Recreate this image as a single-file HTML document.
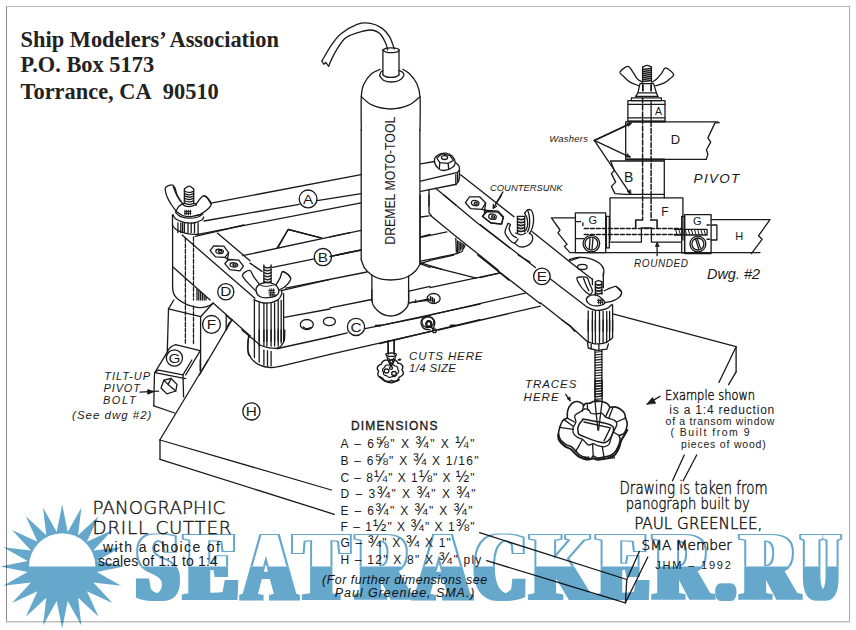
<!DOCTYPE html>
<html><head><meta charset="utf-8"><title>Panographic Drill Cutter</title>
<style>
html,body{margin:0;padding:0;background:#fff;}
body{width:856px;height:630px;overflow:hidden;position:relative;font-family:"Liberation Sans",sans-serif;}
svg{position:absolute;left:0;top:0;}
</style></head><body>
<svg width="856" height="630" viewBox="0 0 856 630">
<g fill="none" stroke-width="1"><path d="M6.5,6 V622.5" stroke="#8a8a8a"/><path d="M6,6.5 H850" stroke="#b8b8b8"/><path d="M849.5,6 V622.5" stroke="#a8a8a8"/><path d="M6,621.8 H850" stroke="#c0c0c0" stroke-width="1.4"/></g>
<g fill="none" stroke="#1a1a1a" stroke-width="1.3" stroke-linecap="round" stroke-linejoin="round">
<path d="M321.9,61 C323.5,58.4 328.2,49.7 331.4,45.2 C334.6,40.7 336.7,37.3 341,33.8 C345.3,30.3 352.2,26.1 357.1,24.3 C362.0,22.6 366.4,22.7 370.5,23.3 C374.6,23.9 378.7,25.9 381.9,28.1 C385.1,30.3 387.4,33.2 389.5,36.7 C391.6,40.2 393.5,47.0 394.3,49"/>
<path d="M328.6,66.2 C329.6,64.1 331.6,58.4 334.3,53.8 C337.0,49.2 341.0,42.1 344.8,38.6 C348.6,35.1 352.8,34.3 357.1,32.9 C361.4,31.5 366.7,29.9 370.5,30 C374.3,30.1 377.5,31.6 380,33.8 C382.5,36.0 384.4,40.6 385.7,43.3 C387.0,46.0 387.3,48.9 387.6,50"/>
<polyline points="321.9,61 323.8,64.3 325.7,62.4 328.6,66.2"/>
<polyline points="382.9,50 382.9,74.8"/>
<polyline points="399,50 399,74.8"/>
<path d="M382.9,50 C383.5,49.7 384.6,48.4 386.7,48.1 C388.8,47.8 393.1,47.8 395.2,48.1 C397.2,48.4 399.0,49.3 399,50 C399.0,50.7 397.2,51.9 395.2,52.3 C393.1,52.7 388.8,52.7 386.7,52.3 C384.6,51.9 383.5,50.4 382.9,50"/>
<path d="M382.9,74.8 C383.5,75.2 384.6,76.6 386.7,77 C388.8,77.4 393.1,77.4 395.2,77 C397.2,76.6 398.4,75.2 399,74.8"/>
<path d="M379.6,75.7 C379.8,75.1 380.4,72.8 381,71.9 C381.6,71.1 382.6,70.8 382.9,70.6"/>
<path d="M399,70.6 C399.6,70.9 402.1,71.7 402.9,72.5 C403.7,73.3 404.4,74.4 403.8,75.7 C403.2,77.0 401.1,79.5 399,80.5 C396.9,81.5 393.9,82.0 391.4,82 C388.9,82.0 385.8,81.5 383.8,80.5 C381.8,79.5 380.3,76.5 379.6,75.7"/>
<path d="M361.3,130 C361.3,124.5 360.9,104.3 361.3,96.7 C361.7,89.1 362.1,88.1 363.8,84.3 C365.5,80.5 368.7,76.3 371.4,73.8 C374.1,71.3 378.6,70.1 380,69.4"/>
<path d="M402.9,69.4 C404.0,70.1 407.2,71.5 409.5,73.8 C411.8,76.1 414.9,79.5 416.6,83.3 C418.4,87.1 419.4,88.9 420,96.7 C420.6,104.5 420.0,124.5 420,130"/>
<path d="M361.3,96.7 C363.1,98.1 367.5,103.2 372.4,105.2 C377.3,107.2 384.7,109.0 390.7,109 C396.7,109.0 403.7,107.2 408.6,105.2 C413.5,103.2 418.1,98.1 420,96.7"/>
<path d="M176.1,211.1 C175.3,210.0 172.8,206.9 171.3,204.5 C169.8,202.1 168.1,199.6 167.1,196.8 C166.1,194.0 164.6,189.9 165.4,187.9 C166.2,185.9 170.3,184.9 171.9,184.9 C173.5,184.9 174.0,186.1 174.9,187.9 C175.8,189.7 176.1,193.1 177.3,195.6 C178.5,198.1 181.2,201.5 182,202.7"/>
<polyline points="184.4,202.7 184.4,189"/>
<polyline points="193.7,189 193.7,202.7"/>
<path d="M184.4,189 C185.2,188.5 187.6,186.1 189.2,186.1 C190.8,186.1 192.9,188.5 193.7,189"/>
<path d="M184.4,191.2 C185.2,191.4 187.6,192.4 189.2,192.4 C190.8,192.4 192.9,191.4 193.7,191.2"/>
<path d="M184.4,193.6 C185.2,193.8 187.6,194.8 189.2,194.8 C190.8,194.8 192.9,193.8 193.7,193.6"/>
<path d="M184.4,196 C185.2,196.2 187.6,197.1 189.2,197.1 C190.8,197.1 192.9,196.2 193.7,196"/>
<path d="M184.4,198.3 C185.2,198.5 187.6,199.5 189.2,199.5 C190.8,199.5 192.9,198.5 193.7,198.3"/>
<path d="M184.4,200.7 C185.2,200.9 187.6,201.9 189.2,201.9 C190.8,201.9 192.9,200.9 193.7,200.7"/>
<path d="M176.1,211.1 C176.6,210.3 177.7,207.6 179,206.3 C180.3,205.0 182.1,203.6 183.8,203.3 C185.5,203.0 187.4,204.5 189.2,204.5 C191.0,204.5 193.3,203.2 194.5,203.3 C195.7,203.4 196.0,204.8 196.3,205.1"/>
<path d="M195.7,204.5 C197.1,203.0 201.4,195.8 204,195.6 C206.6,195.4 210.5,201.1 211.2,203.3 C211.9,205.5 210.1,206.8 208.2,208.7 C206.3,210.6 202.2,213.4 199.9,214.6 C197.6,215.8 195.4,215.6 194.5,215.8"/>
<path d="M176.1,211.1 C177.2,211.8 180.1,214.6 182.6,215.5 C185.1,216.4 188.2,216.8 191,216.7 C193.8,216.5 197.9,214.9 199.3,214.6"/>
<path d="M182,203.1 C182.4,203.5 183.2,205.1 184.4,205.7 C185.6,206.3 187.6,206.7 189.2,206.7 C190.8,206.7 192.8,205.9 193.9,205.5 C195.0,205.1 195.7,204.5 196,204.3"/>
<path d="M173.3,186.7 C173.8,188.0 175.2,192.0 176.4,194.4 C177.6,196.8 179.8,200.1 180.5,201.2"/>
<polyline points="204.3,196 207,197.6 211,203.6"/>
<polyline points="185,210.2 185,215" stroke-width="1"/>
<polyline points="186.8,210.2 186.8,215" stroke-width="1"/>
<polyline points="188.6,210.2 188.6,215" stroke-width="1"/>
<polyline points="190.4,210.2 190.4,215" stroke-width="1"/>
<polyline points="184.4,211.7 191,211.4" stroke-width="1"/>
<polyline points="184.4,213.5 191,213.2" stroke-width="1"/>
<path d="M172.9,214.6 C173.3,215.3 173.7,217.5 175.5,218.8 C177.3,220.1 180.8,221.7 183.8,222.4 C186.8,223.1 190.3,223.4 193.3,223 C196.3,222.6 199.9,221.0 201.7,220 C203.4,219.0 203.5,217.5 203.8,217"/>
<path d="M175.5,212.3 C176.3,213.0 178.0,215.4 180.2,216.4 C182.4,217.4 185.6,218.1 188.6,218.2 C191.6,218.3 195.7,217.7 198.1,217 C200.5,216.3 202.1,214.5 202.9,214"/>
<polyline points="172.5,215.2 172.5,226"/>
<path d="M172.5,226 C173.4,226.8 175.4,229.4 177.9,230.7 C180.4,232.0 184.0,233.1 187.4,233.7 C190.8,234.3 196.3,234.4 198.1,234.5"/>
<polyline points="198.1,223 198.1,234.9"/>
<polyline points="177.9,223 177.9,232.5"/>
<polyline points="180.8,223 180.8,232.5"/>
<polyline points="182.6,223 182.6,232.5"/>
<polyline points="184.4,223 184.4,232.5"/>
<polyline points="188,223 188,232.5"/>
<polyline points="191.2,223 191.2,232.5"/>
<polyline points="194.5,223 194.5,232.5"/>
<polyline points="172.6,225 172.6,287.5"/>
<path d="M172.6,287.5 C172.7,288.2 172.8,290.6 173.2,292 C173.6,293.4 174.0,294.7 175,296 C176.0,297.3 176.9,298.5 179,300 C181.1,301.5 184.3,303.5 187.6,304.8 C190.9,306.1 195.8,307.3 199,307.6 C202.2,307.9 204.8,307.1 207,306.5 C209.2,305.9 211.5,304.2 212.4,303.8"/>
<polyline points="195.2,236.3 244,225"/>
<polyline points="182.1,235.1 254.9,298.3"/>
<polyline points="217.3,233.1 250,260.7"/>
<polyline points="185.4,238.1 185.4,300" stroke-dasharray="4 1.6"/>
<polyline points="193.5,236.9 193.5,300" stroke-dasharray="4 1.6"/>
<polyline points="173.2,267.3 210.1,300"/>
<polygon points="210.1,250.6 213.7,245.8 223.8,246.2 228.6,252.6 225,257.4 215.5,256.9"/>
<ellipse cx="219.6" cy="251.4" rx="3.8" ry="2.1" transform="rotate(5 219.6 251.4)"/>
<ellipse cx="220.2" cy="251.4" rx="1.7" ry="1.0" stroke-width="1.2" transform="rotate(5 220.2 251.4)"/>
<polygon points="224.8,263.7 228.6,259.5 238.7,260.1 243.5,266.1 239.9,270.8 229.8,269.6"/>
<ellipse cx="233.9" cy="264.9" rx="3.8" ry="2.1" transform="rotate(5 233.9 264.9)"/>
<ellipse cx="234.5" cy="264.9" rx="1.7" ry="1.0" stroke-width="1.2" transform="rotate(5 234.5 264.9)"/>
<polyline points="225,257.4 228.8,259.8"/>
<polyline points="228.6,252.6 227.4,259.8"/>
<ellipse cx="225.8" cy="291.7" rx="8.1" ry="8.1"/>
<polyline points="197,289.3 197,300"/>
<polyline points="198.8,290.8 198.8,300"/>
<polyline points="200.6,292.5 200.6,300"/>
<polyline points="202.4,294 202.4,300"/>
<polyline points="204.2,295.7 204.2,300"/>
<polyline points="206,297.3 206,300"/>
<polyline points="173.8,300 168.5,308.9 167.3,351.2"/>
<polyline points="168.5,308.9 200.6,316.7 213.1,303"/>
<polyline points="200.6,316.7 200.6,370.2"/>
<polyline points="213.1,303 250,335.7"/>
<polyline points="226.2,314.9 226.2,329.8"/>
<path d="M226.2,314.9 C226.7,315.4 228.2,317.0 229.2,317.9 C230.2,318.8 231.6,319.6 232.1,320"/>
<path d="M232.1,320 C231.5,320.6 229.5,322.2 228.6,323.8 C227.7,325.4 226.8,328.8 226.4,329.8"/>
<polyline points="232.1,319.6 199.4,375"/>
<path d="M167.3,351.2 C167.9,350.5 169.4,348.1 170.8,347 C172.2,345.9 174.8,345.0 175.6,344.6"/>
<polyline points="175.6,344.6 200,350.6"/>
<polyline points="167.9,351.2 154.8,372.6"/>
<polyline points="200,351.2 185.7,375"/>
<polyline points="154.8,372.6 185.7,378.6"/>
<ellipse cx="174.4" cy="358" rx="8.1" ry="8.1"/>
<ellipse cx="211.5" cy="324.4" rx="8.9" ry="8.9"/>
<polyline points="185.4,300 185.4,344" stroke-dasharray="4 1.6"/>
<polyline points="193.5,306 193.5,344" stroke-dasharray="4 1.6"/>
<path d="M250,335.7 C249.7,336.3 248.5,337.5 248.2,339.3 C247.8,341.1 247.9,344.0 247.9,346.4 C247.9,348.8 247.8,352.0 248.2,353.6 C248.5,355.2 249.7,355.6 250,356"/>
<path d="M158.6,370.1 C158.0,370.5 155.9,371.4 155.2,372.5 C154.5,373.6 154.6,371.1 154.4,376.7 C154.2,382.2 153.9,400.9 153.8,405.8"/>
<polyline points="153.8,405.8 174.6,413"/>
<polyline points="158.6,370.1 183,374.9 183.6,396.9"/>
<polyline points="183,374.9 191.9,360"/>
<polyline points="200.2,360 200.2,371.3"/>
<polyline points="208,360 159.8,440"/>
<polygon points="161,388 163.9,380.2 171.1,378.5 177,384.4 175.8,391 166.9,393.9"/>
<polyline points="163.9,380.2 168.1,384.4 175.8,391"/>
<polyline points="168.1,384.4 171.1,378.5"/>
<polyline points="140.1,392.1 158.6,391.2"/>
<polygon points="147.9,389.8 153.2,391.7 147.9,393.9" fill="#1a1a1a"/>
<polyline points="242.6,255.7 350,232.7"/>
<polyline points="272.6,267.3 314.3,258.9"/>
<ellipse cx="322.9" cy="257.1" rx="8.6" ry="8.6"/>
<polyline points="332.1,256.2 350,252.1"/>
<polyline points="278,247.6 288.1,229.5 321.4,237.9"/>
<polyline points="250,263.1 261.9,271.4"/>
<polyline points="263.9,265 263.9,282.9"/>
<polyline points="271.1,265 271.1,282.9"/>
<path d="M263.9,266.8 C264.5,267.0 266.3,267.9 267.5,267.9 C268.7,267.9 270.5,267.0 271.1,266.8"/>
<path d="M263.9,269.8 C264.5,270.0 266.3,270.8 267.5,270.8 C268.7,270.8 270.5,270.0 271.1,269.8"/>
<path d="M263.9,272.7 C264.5,272.9 266.3,273.8 267.5,273.8 C268.7,273.8 270.5,272.9 271.1,272.7"/>
<path d="M263.9,275.7 C264.5,275.9 266.3,276.8 267.5,276.8 C268.7,276.8 270.5,275.9 271.1,275.7"/>
<path d="M263.9,278.7 C264.5,278.9 266.3,279.8 267.5,279.8 C268.7,279.8 270.5,278.9 271.1,278.7"/>
<path d="M263.9,281.4 C264.5,281.6 266.3,282.5 267.5,282.5 C268.7,282.5 270.5,281.6 271.1,281.4"/>
<path d="M255.6,290.6 C254.3,289.3 250.1,285.5 247.9,282.9 C245.7,280.3 242.2,277.2 242.5,275.1 C242.8,273.0 247.7,270.1 249.6,270.4 C251.5,270.7 252.2,274.6 253.8,276.9 C255.4,279.2 258.3,282.8 259.2,284"/>
<path d="M275.8,285.2 C276.5,284.0 278.8,280.4 280,278.1 C281.2,275.8 281.2,271.5 283,271.5 C284.8,271.5 290.2,275.7 290.7,278.1 C291.2,280.5 288.0,283.8 286,285.8 C284.0,287.8 280.0,289.5 278.8,290.2"/>
<polyline points="283,271.5 288.3,274.5 290.7,278.1"/>
<path d="M256,290.6 C255.8,288.7 257.0,286.3 258.6,285 C260.2,283.7 263.1,282.8 265.7,282.6 C268.3,282.4 271.8,282.8 274,284 C276.2,285.2 278.4,288.1 278.8,290 C279.2,291.9 278.2,294.1 276.4,295.4 C274.6,296.7 270.9,297.5 268.1,297.7 C265.3,297.9 261.8,297.7 259.8,296.5 C257.8,295.3 256.2,292.5 256,290.6Z"/>
<path d="M253.8,299.8 C255.8,300.4 261.7,303.1 265.7,303.1 C269.7,303.2 274.9,301.7 277.6,300.1 C280.3,298.5 281.2,295.2 281.8,293.6 C282.4,292.0 281.3,291.1 281.2,290.6"/>
<polyline points="269.9,288.8 270.5,296.2" stroke-width="1"/>
<polyline points="271.7,288.8 272.3,296.2" stroke-width="1"/>
<polyline points="273.5,288.8 274,296.2" stroke-width="1"/>
<polyline points="268.7,290.6 274.6,290.2" stroke-width="1"/>
<polyline points="268.7,293 275,292.6" stroke-width="1"/>
<polyline points="269.3,295 275,294.8" stroke-width="1"/>
<path d="M259.8,285 C260.8,285.2 263.4,286.4 265.7,286.4 C268.0,286.4 272.2,285.2 273.5,285" stroke-width="1"/>
<polyline points="254.4,299.8 254.4,341.2"/>
<polyline points="283.6,293.6 283.6,341.2"/>
<polyline points="259.2,302.9 259.2,341.2"/>
<polyline points="263.9,302.9 263.9,341.2"/>
<polyline points="266.9,302.9 266.9,341.2"/>
<polyline points="271.1,302.9 271.1,341.2"/>
<polyline points="274.6,302.9 274.6,341.2"/>
<polyline points="278.2,300.5 278.2,341.2"/>
<polyline points="281.2,300.5 281.2,341.2"/>
<polyline points="281.2,290.6 330,279.3"/>
<polyline points="284.2,317.4 330,309"/>
<ellipse cx="306.8" cy="324.5" rx="6.5" ry="5.0"/>
<path d="M303.2,326.9 C303.7,327.2 304.9,328.6 306.2,328.7 C307.5,328.8 310.2,327.7 311,327.5"/>
<path d="M241.9,330 C244.1,331.8 251.8,338.1 255,340.7 C258.2,343.3 258.6,344.3 261,345.5 C263.4,346.7 266.5,347.4 269.3,347.9 C272.1,348.4 276.2,348.4 277.6,348.5"/>
<polyline points="277.6,348.5 330,337"/>
<path d="M284.8,330 C284.7,331.8 284.9,338.0 284.2,340.7 C283.5,343.4 281.9,345.1 280.6,346.4 C279.3,347.7 277.1,348.1 276.4,348.5"/>
<path d="M248.5,336.5 C248.4,338.8 247.4,346.5 247.9,350.2 C248.4,353.9 249.4,356.1 251.4,358.6 C253.4,361.1 256.6,363.6 259.8,365.1 C263.0,366.6 267.1,367.3 270.5,367.5 C273.9,367.7 278.4,366.5 280,366.3"/>
<polyline points="280,366.3 330,354.3"/>
<polyline points="259.2,330 259.2,346.1"/>
<polyline points="263.9,330 263.9,346.1"/>
<polyline points="266.9,330 266.9,346.1"/>
<polyline points="271.1,330 271.1,346.1"/>
<polyline points="274.6,330 274.6,346.1"/>
<polyline points="278.2,330 278.2,346.1"/>
<polyline points="281.2,330 281.2,343.1"/>
<polyline points="254.4,337.1 254.4,357.4"/>
<polyline points="259.2,344.3 259.2,362.1"/>
<polyline points="263.9,350.2 263.9,365.1"/>
<polyline points="267.5,350.8 267.5,365.7"/>
<polyline points="271.1,351.4 271.1,365.7"/>
<polyline points="361.2,129.8 361.2,259.5"/>
<polyline points="419.9,129.8 419.9,264.3"/>
<path d="M361.2,259.5 C361.8,260.9 362.8,265.3 364.5,267.9 C366.2,270.5 368.9,273.1 371.7,275 C374.5,276.9 378.0,278.4 381.2,279.2 C384.4,280.0 387.5,280.0 390.7,280 C393.9,280.0 397.2,279.8 400.2,279.2 C403.2,278.6 406.0,277.6 408.6,276.2 C411.2,274.8 413.8,272.8 415.7,270.8 C417.6,268.8 419.2,265.4 419.9,264.3"/>
<polyline points="371.9,275 371.9,301.2"/>
<polyline points="408.6,276.2 408.6,301.2"/>
<polyline points="330,236.9 361.2,230.4"/>
<polyline points="330,256.5 361.2,250"/>
<polyline points="420.5,236.9 430,234.5"/>
<polyline points="419.9,263.7 430,260.7"/>
<polyline points="419.9,263.7 430,267.3"/>
<polyline points="409.2,291.1 430,286.3"/>
<path d="M371.9,290 C371.9,291.8 371.5,297.9 371.9,300.7 C372.2,303.5 372.6,304.7 374,306.7 C375.4,308.7 377.8,311.1 380,312.6 C382.2,314.1 384.7,315.1 387.1,315.6 C389.5,316.1 391.9,316.1 394.3,315.6 C396.7,315.1 399.2,314.1 401.4,312.6 C403.6,311.1 406.2,308.7 407.4,306.7 C408.6,304.7 408.4,303.5 408.6,300.7 C408.8,297.9 408.6,291.8 408.6,290"/>
<polyline points="330,307.9 371.7,299.5"/>
<polyline points="330,337 347.3,332.9"/>
<ellipse cx="356" cy="326.9" rx="8.6" ry="8.6"/>
<polyline points="365.1,328.7 430,315.6"/>
<polyline points="330,354.3 430,331.7"/>
<polyline points="388.3,340.6 388.3,354.3"/>
<polyline points="394.3,339.4 394.3,354.3"/>
<polyline points="409.2,303.1 428.8,298.9"/>
<ellipse cx="427.9" cy="322.1" rx="6.0" ry="5.4"/>
<ellipse cx="428.8" cy="323.9" rx="2.6" ry="2.6" stroke-width="2"/>
<ellipse cx="329.4" cy="321.5" rx="6.0" ry="4.2"/>
<polyline points="375.8,325.7 380.6,325.4" stroke-width="2"/>
<polyline points="420.7,163.9 434.4,161.5"/>
<path d="M455.2,162.1 C455.8,162.8 458.3,164.5 459,166.3 C459.7,168.1 459.5,170.6 459.5,172.9 C459.5,175.2 459.6,178.0 459,180 C458.4,182.0 456.3,184.0 455.8,184.8"/>
<polyline points="420.7,181.2 457.6,172.3 459.5,169.9"/>
<polyline points="420.7,191.3 455.2,184.5"/>
<polyline points="455.8,174.6 455.8,184.2"/>
<polyline points="457.6,173.5 457.6,182.4"/>
<path d="M434.4,160.4 C434.4,158.2 436.1,156.2 438,155 C439.9,153.8 443.3,153.0 445.7,153.2 C448.1,153.4 450.7,154.6 452.3,156.2 C453.9,157.8 455.2,160.8 455.2,162.7 C455.2,164.6 454.2,166.2 452.3,167.5 C450.4,168.8 446.3,170.4 443.9,170.5 C441.5,170.6 439.6,169.8 438,168.1 C436.4,166.4 434.4,162.6 434.4,160.4Z"/>
<polygon points="436.8,158 442.1,153.8 449.9,155.6 453.5,160.4 448.1,163.3 439.8,162.7"/>
<polyline points="439.8,162.7 439.2,168.7"/>
<polyline points="448.1,163.3 448.7,169.3"/>
<ellipse cx="444.5" cy="157.6" rx="3.1" ry="1.9"/>
<polyline points="435.6,188.3 455.8,205"/>
<polyline points="429,189.5 429,206.2"/>
<polyline points="502.9,191.9 495.7,203.8"/>
<polyline points="420.1,195 420.1,262.3"/>
<polyline points="429,195 429,212.9 431.2,215.5"/>
<polyline points="420.7,217 429,215.8"/>
<polyline points="443.9,195 476.7,222.4 510,248"/>
<polyline points="430.5,215.5 456.4,236.7 498.1,270"/>
<polyline points="420.7,237.3 446.9,231.9"/>
<polyline points="455.8,238.5 456.4,252.1"/>
<path d="M420.7,261.1 C426.9,259.8 450.6,255.3 457.6,253.3 C464.7,251.3 461.8,250.6 463,249.2 C464.2,247.8 464.7,245.7 465,245"/>
<polyline points="457.6,240.8 457.6,252.7"/>
<polyline points="459,241.7 459,251.4"/>
<polyline points="460.5,242.5 460.5,250.1"/>
<polyline points="461.9,243.3 461.9,248.8"/>
<polyline points="463.3,244.2 463.3,247.5"/>
<polyline points="420.7,262.9 442.1,269.4"/>
<polygon points="465.4,202.7 469.5,196.8 479.6,196.8 485.6,202.7 482,209.3 470.7,208.7"/>
<ellipse cx="475.2" cy="203.1" rx="3.8" ry="2.6" transform="rotate(10 475.2 203.1)"/>
<ellipse cx="475.8" cy="203.3" rx="1.5" ry="1.1" stroke-width="1.3" transform="rotate(10 475.8 203.3)"/>
<polygon points="482.6,216.4 486.8,210.5 498.1,211.1 503.5,217 501.7,224.2 491,223"/>
<ellipse cx="492.5" cy="216.7" rx="3.8" ry="2.6" transform="rotate(10 492.5 216.7)"/>
<ellipse cx="493.1" cy="216.9" rx="1.5" ry="1.1" stroke-width="1.3" transform="rotate(10 493.1 216.9)"/>
<polyline points="482,209.3 486.8,210.5"/>
<polyline points="485.6,202.7 484.4,212.9"/>
<polyline points="501.7,195 493.3,208.1"/>
<polyline points="493.3,204.5 493.3,208.3 496.7,206.3"/>
<polyline points="517.5,216.3 517.5,233"/>
<polyline points="524.6,216.3 524.6,231.8"/>
<polyline points="517.5,216.3 524.6,216.3"/>
<path d="M517.5,218.7 C518.1,218.8 519.9,219.6 521.1,219.6 C522.3,219.6 524.0,218.8 524.6,218.7" stroke-width="1.6"/>
<path d="M517.5,221.7 C518.1,221.8 519.9,222.6 521.1,222.6 C522.3,222.6 524.0,221.8 524.6,221.7" stroke-width="1.6"/>
<path d="M517.5,224.6 C518.1,224.8 519.9,225.6 521.1,225.6 C522.3,225.6 524.0,224.8 524.6,224.6" stroke-width="1.6"/>
<path d="M517.5,227.6 C518.1,227.8 519.9,228.6 521.1,228.6 C522.3,228.6 524.0,227.8 524.6,227.6" stroke-width="1.6"/>
<path d="M517.5,230.6 C518.1,230.8 519.9,231.5 521.1,231.5 C522.3,231.5 524.0,230.8 524.6,230.6" stroke-width="1.6"/>
<path d="M524.6,213.3 C525.1,212.7 526.4,210.2 527.6,209.8 C528.8,209.4 530.8,209.4 531.8,211 C532.8,212.6 533.5,216.5 533.6,219.3 C533.7,222.1 533.1,225.2 532.4,227.6 C531.7,230.0 529.9,232.6 529.4,233.6"/>
<path d="M524.6,213.3 C525.0,214.1 526.5,216.1 527,218.1 C527.5,220.1 527.8,223.1 527.6,225.2 C527.4,227.3 526.1,229.7 525.8,230.6"/>
<path d="M527.6,209.8 C527.9,211.0 529.1,214.1 529.4,216.9 C529.7,219.7 529.7,223.9 529.4,226.4 C529.1,228.9 527.9,230.9 527.6,231.8"/>
<path d="M508,223.5 C507.5,225.0 504.7,229.6 505,232.4 C505.3,235.2 508.2,238.3 509.8,240.1 C511.4,241.9 513.1,243.3 514.5,243.1 C515.9,242.9 517.5,239.6 518.1,238.9"/>
<path d="M508,223.5 C508.4,223.7 510.2,223.7 510.4,224.6 C510.6,225.5 508.9,227.1 509.2,228.8 C509.5,230.5 510.9,233.3 512.1,234.8 C513.3,236.3 515.6,237.2 516.3,237.7"/>
<path d="M514.5,243.1 C515.3,243.7 517.3,246.2 519.3,246.7 C521.3,247.2 524.3,246.9 526.4,246.1 C528.5,245.3 530.8,243.6 531.8,241.9 C532.8,240.2 532.8,237.5 532.4,236 C532.0,234.5 529.9,233.5 529.4,233"/>
<path d="M515.7,233 C516.6,233.3 519.4,234.8 521.1,234.8 C522.8,234.8 525.0,233.3 525.8,233"/>
<polyline points="480,224.6 535.4,267.5"/>
<ellipse cx="541.9" cy="276.4" rx="8.3" ry="8.3"/>
<polyline points="480,256.2 508.6,280"/>
<polyline points="480,277.6 500.2,272.9"/>
<polygon points="482.4,216.3 487.1,211.5 497.9,212.1 503.2,217.5 501.4,224 490.7,222.9"/>
<polyline points="569.3,261 580,257.4"/>
<path d="M569.2,259.8 C570.7,259.4 574.6,257.6 578.1,257.4 C581.6,257.2 586.4,257.6 590,258.6 C593.6,259.6 597.2,261.5 599.5,263.3 C601.8,265.1 603.1,267.1 603.7,269.3 C604.3,271.5 603.4,275.2 603.3,276.4"/>
<ellipse cx="582.3" cy="266.9" rx="4.8" ry="2.6"/>
<polyline points="592.4,278.8 592.4,284.8"/>
<polyline points="603.3,272.9 603.3,287.7"/>
<polyline points="550.1,278.8 587.6,307.4"/>
<path d="M587.6,307.4 C589.0,307.9 592.8,310.2 596,310.4 C599.2,310.6 604.0,309.6 606.7,308.6 C609.4,307.6 611.1,305.1 612,304.4"/>
<polyline points="540,302.6 570.4,326.4 574.5,331.2"/>
<path d="M576.9,278.2 C577.0,276.7 579.4,277.1 581.1,277 C582.8,276.9 585.5,276.3 587,277.6 C588.5,278.9 589.1,282.6 590,284.8 C590.9,287.0 592.4,289.1 592.4,290.7 C592.4,292.3 591.1,294.1 590,294.3 C588.9,294.5 587.4,293.3 585.8,291.9 C584.2,290.5 582.0,288.3 580.5,286 C579.0,283.7 576.8,279.7 576.9,278.2Z"/>
<path d="M583.5,278.2 C583.9,279.2 584.9,282.1 585.8,284.2 C586.7,286.3 588.3,289.6 588.8,290.7"/>
<polyline points="595.4,281.8 595.4,295.5"/>
<polyline points="601.9,281.8 601.9,294.3"/>
<path d="M595.4,281.8 C595.9,281.6 597.5,280.6 598.6,280.6 C599.7,280.6 601.4,281.6 601.9,281.8"/>
<path d="M595.4,284.2 C595.9,284.4 597.5,285.1 598.6,285.1 C599.7,285.1 601.4,284.4 601.9,284.2" stroke-width="1.6"/>
<path d="M595.4,287.1 C595.9,287.3 597.5,288.1 598.6,288.1 C599.7,288.1 601.4,287.3 601.9,287.1" stroke-width="1.6"/>
<path d="M595.4,290.1 C595.9,290.3 597.5,291.1 598.6,291.1 C599.7,291.1 601.4,290.3 601.9,290.1" stroke-width="1.6"/>
<path d="M595.4,293.1 C595.9,293.2 597.5,294.0 598.6,294 C599.7,294.0 601.4,293.2 601.9,293.1" stroke-width="1.6"/>
<path d="M604.3,290.7 C605.5,290.2 609.4,288.4 611.4,287.7 C613.4,287.0 614.5,285.8 616.2,286.5 C617.9,287.2 621.0,290.1 621.5,291.9 C622.0,293.7 620.9,295.7 619.2,297.3 C617.5,298.9 613.8,300.5 611.4,301.4 C609.0,302.3 606.0,302.4 604.9,302.6"/>
<polyline points="616.2,286.5 619.2,289.5 621.5,291.9"/>
<path d="M586.4,300.2 C586.0,298.7 587.4,297.0 588.8,296.1 C590.2,295.2 593.0,294.8 594.8,294.9 C596.6,295.0 597.8,295.4 599.5,296.7 C601.2,298.0 604.9,301.1 604.9,302.6 C604.9,304.1 601.8,305.2 599.5,305.6 C597.2,306.0 593.4,305.9 591.2,305 C589.0,304.1 586.8,301.7 586.4,300.2Z"/>
<polyline points="598.3,299 598.8,304" stroke-width="1"/>
<polyline points="600.1,299 600.6,304" stroke-width="1"/>
<polyline points="601.9,299 602.4,304" stroke-width="1"/>
<polyline points="597.4,300.5 603.1,300.2" stroke-width="1"/>
<polyline points="597.6,302.4 603.3,302.1" stroke-width="1"/>
<polyline points="588.2,311 588.2,331.2"/>
<polyline points="612.6,305 612.6,331.2"/>
<polyline points="592.4,311.5 592.4,331.2"/>
<polyline points="595.4,311.5 595.4,331.2"/>
<polyline points="599.5,311.5 599.5,331.2"/>
<polyline points="603.1,311.5 603.1,331.2"/>
<polyline points="606.7,311.5 606.7,331.2"/>
<polyline points="609.6,311.5 609.6,331.2"/>
<polyline points="477.6,255 540,303.5"/>
<polyline points="518.1,255 530,262.1"/>
<polyline points="430,260.4 453.8,255"/>
<polyline points="430,266.3 476.4,278.2"/>
<polyline points="430,287.7 500.2,272.9"/>
<polyline points="430,315.1 525.2,293.1"/>
<polyline points="438.3,330 540.5,306.1"/>
<ellipse cx="433.6" cy="298.5" rx="6.5" ry="5.0"/>
<polyline points="430.6,296.7 430.6,300.8" stroke-width="1.6"/>
<polyline points="432.4,297.9 432.4,302" stroke-width="1.6"/>
<polyline points="434.2,299 434.2,302.6" stroke-width="1.6"/>
<polyline points="380,325.6 480,304.2"/>
<polyline points="380,343.5 480,319.6"/>
<path d="M427.6,316.7 C426.7,317.1 423.4,317.8 422.3,319 C421.2,320.2 420.8,322.2 421.1,323.8 C421.4,325.4 422.5,327.6 424,328.6 C425.5,329.6 429.0,329.6 430,329.8"/>
<path d="M427.6,316.7 C428.4,316.9 431.2,316.9 432.4,317.9 C433.6,318.9 434.6,320.9 434.8,322.6 C435.0,324.3 433.8,327.1 433.6,328"/>
<ellipse cx="428.8" cy="323.8" rx="2.4" ry="3.1" stroke-width="1.3"/>
<ellipse cx="434.5" cy="330.7" rx="1.9" ry="1.9"/>
<polyline points="430.6,326.8 433.6,329.2" stroke-width="1.5"/>
<polyline points="450.8,325.6 455,325.4" stroke-width="2"/>
<polyline points="409.8,302.6 430,300"/>
<polyline points="415.7,300 415.7,302.4"/>
<polyline points="388,341 388,353.7"/>
<polyline points="394,340.6 394,353.7"/>
<path d="M385.8,354 C386.1,353.6 387.5,353.2 388.8,353.1 C390.1,353.0 392.4,353.0 393.6,353.1 C394.9,353.2 396.0,353.6 396.3,354 C396.6,354.4 396.1,355.4 395.2,355.8 C394.3,356.2 392.5,356.4 391.2,356.4 C389.9,356.4 388.1,356.2 387.2,355.8 C386.3,355.4 385.5,354.4 385.8,354Z"/>
<polyline points="386.8,355.8 388,360.4 391.2,366.7 394.5,360.4 395.6,355.8"/>
<polyline points="388.8,358 391.2,365.2 393.6,358" stroke-width="1"/>
<polyline points="388.8,358.8 393.6,361.2" stroke-width="0.9"/>
<polyline points="393.6,358.8 388.8,361.2" stroke-width="0.9"/>
<polyline points="389.2,362 393.2,363.6" stroke-width="0.9"/>
<polygon points="402.4,370.6 403.0,371.5 403.3,372.5 403.3,373.5 402.9,374.5 402.3,375.3 401.4,376.0 400.4,376.6 399.3,376.9 398.9,377.9 398.5,378.8 397.8,379.7 397.0,380.4 396.0,380.9 394.8,381.1 393.6,381.1 392.4,380.8 391.3,380.4 390.3,380.9 389.2,381.3 388.0,381.5 386.8,381.5 385.7,381.3 384.7,380.7 383.9,380.0 383.2,379.1 382.8,378.2 381.7,377.9 380.6,377.5 379.5,377.0 378.7,376.3 378.1,375.4 377.8,374.4 377.9,373.4 378.2,372.4 378.7,371.5 378.2,370.6 377.6,369.7 377.3,368.7 377.3,367.7 377.7,366.7 378.3,365.9 379.2,365.2 380.2,364.6 381.3,364.3 381.7,363.3 382.1,362.4 382.8,361.5 383.6,360.8 384.6,360.3 385.8,360.1 387.0,360.1 388.2,360.4 389.3,360.8 390.3,360.3 391.4,359.9 392.6,359.7 393.8,359.7 394.9,359.9 395.9,360.5 396.7,361.2 397.4,362.1 397.8,363.0 398.9,363.3 400.0,363.7 401.1,364.2 401.9,364.9 402.5,365.8 402.8,366.8 402.7,367.8 402.4,368.8 401.9,369.7" stroke-width="1.4"/>
<polygon points="398.6,370.8 398.7,371.4 398.7,371.9 398.5,372.5 398.1,373.0 397.6,373.4 397.0,373.8 396.7,374.2 396.5,374.8 396.2,375.4 395.8,375.8 395.3,376.2 394.7,376.5 394.0,376.6 393.2,376.6 392.5,376.5 391.9,376.7 391.3,377.0 390.6,377.2 389.9,377.3 389.2,377.3 388.5,377.1 387.9,376.8 387.4,376.4 386.9,375.9 386.4,375.7 385.6,375.6 385.0,375.4 384.4,375.0 383.9,374.6 383.6,374.1 383.4,373.5 383.4,372.9 383.5,372.3 383.3,371.8 382.9,371.3 382.6,370.8 382.5,370.2 382.5,369.7 382.7,369.1 383.1,368.6 383.6,368.2 384.2,367.8 384.5,367.4 384.7,366.8 385.0,366.2 385.4,365.8 385.9,365.4 386.5,365.1 387.2,365.0 388.0,365.0 388.7,365.1 389.3,364.9 389.9,364.6 390.6,364.4 391.3,364.3 392.0,364.3 392.7,364.5 393.3,364.8 393.8,365.2 394.3,365.7 394.8,365.9 395.6,366.0 396.2,366.2 396.8,366.6 397.3,367.0 397.6,367.5 397.8,368.1 397.8,368.7 397.7,369.3 397.9,369.8 398.3,370.3" stroke-width="1.2"/>
<ellipse cx="386.5" cy="371" rx="2.3" ry="2.0" stroke-width="1.4"/>
<ellipse cx="394" cy="373.5" rx="2.3" ry="2.0" stroke-width="1.4"/>
<ellipse cx="391" cy="368" rx="1.6" ry="1.4" stroke-width="1.2"/>
<path d="M380,377 C380.8,377.7 383.0,380.1 385,381 C387.0,381.9 389.7,382.7 392,382.5 C394.3,382.3 397.8,380.4 399,380" stroke-width="1.8"/>
<polyline points="401.1,359.2 398.2,359.8" stroke-width="1"/>
<polygon points="398.2,359.8 399.9,358.7 400.2,360.2" stroke-width="0.8" fill="#1a1a1a"/>
<polyline points="588.2,320 588.2,342"/>
<polyline points="612.6,320 612.6,336.7"/>
<path d="M588.2,342 C589.3,342.3 592.1,343.6 594.8,343.8 C597.5,344.0 601.5,344.0 604.3,343.2 C607.1,342.4 610.0,340.1 611.4,339 C612.8,337.9 612.4,337.1 612.6,336.7"/>
<polyline points="592.4,320 592.4,342.6"/>
<polyline points="595.4,320 595.4,342.6"/>
<polyline points="599.5,320 599.5,342.6"/>
<polyline points="603.1,320 603.1,342.6"/>
<polyline points="606.7,320 606.7,342.6"/>
<polyline points="609.6,320 609.6,339.6"/>
<polyline points="562,320 569.2,325 588.2,342.6"/>
<polyline points="587.6,343.2 588.2,348 597.1,350.4 606.7,349.2 608.5,343.8"/>
<polyline points="591.2,344.4 591.2,348.8"/>
<polyline points="598.9,344.4 598.9,350"/>
<polyline points="595,350.4 595,396.2"/>
<polyline points="601.9,350 601.9,396.2"/>
<polyline points="595,352.3 601.9,351.5" stroke-width="1.1"/>
<polyline points="595,354.9 601.9,354.2" stroke-width="1.1"/>
<polyline points="595,357.5 601.9,356.8" stroke-width="1.1"/>
<polyline points="595,360.1 601.9,359.4" stroke-width="1.1"/>
<polyline points="595,362.7 601.9,362" stroke-width="1.1"/>
<polyline points="595,365.4 601.9,364.6" stroke-width="1.1"/>
<polyline points="595,368 601.9,367.3" stroke-width="1.1"/>
<polyline points="595,370.6 601.9,369.9" stroke-width="1.1"/>
<polyline points="595,373.2 601.9,372.5" stroke-width="1.1"/>
<polyline points="595,375.8 601.9,375.1" stroke-width="1.1"/>
<polyline points="595,378.5 601.9,377.7" stroke-width="1.1"/>
<polyline points="595,381.1 601.9,380.4" stroke-width="1.1"/>
<polyline points="595,383.7 601.9,383" stroke-width="1.1"/>
<polyline points="595,386.3 601.9,385.6" stroke-width="1.1"/>
<polyline points="595,388.9 601.9,388.2" stroke-width="1.1"/>
<polyline points="595,391.5 601.9,390.8" stroke-width="1.1"/>
<polyline points="595,394.2 601.9,393.5" stroke-width="1.1"/>
<polyline points="595,396.8 601.9,396.1" stroke-width="1.1"/>
<polyline points="595,380 595,401.4 597.9,430"/>
<polyline points="602.1,380 602.1,401.4 598.6,430"/>
<polyline points="595,381.4 602.1,380.7" stroke-width="1.1"/>
<polyline points="595,384 602.1,383.3" stroke-width="1.1"/>
<polyline points="595,386.6 602.1,385.9" stroke-width="1.1"/>
<polyline points="595,389.1 602.1,388.4" stroke-width="1.1"/>
<polyline points="595,391.7 602.1,391" stroke-width="1.1"/>
<polyline points="595,394.3 602.1,393.6" stroke-width="1.1"/>
<polyline points="595,396.9 602.1,396.1" stroke-width="1.1"/>
<polyline points="595,399.4 602.1,398.7" stroke-width="1.1"/>
<polyline points="595,402 602.1,401.3" stroke-width="1.1"/>
<path d="M567.3,418.2 C567.4,416.9 567.1,412.5 567.8,410.1 C568.5,407.7 570.1,405.0 571.6,403.6 C573.1,402.2 575.2,401.5 577,401.5 C578.8,401.5 581.3,402.9 582.4,403.6 C583.5,404.3 583.3,405.4 583.5,405.8" stroke-width="1.6"/>
<path d="M583.5,405.8 C583.9,405.4 584.5,404.1 585.6,403.6 C586.7,403.2 588.6,403.5 589.9,403.1 C591.2,402.8 592.1,401.9 593.2,401.5 C594.3,401.1 595.0,400.9 596.4,400.9 C597.8,400.9 600.0,401.1 601.8,401.5 C603.6,401.9 605.9,402.6 607.2,403.6 C608.6,404.6 609.5,406.8 609.9,407.4" stroke-width="1.6"/>
<path d="M609.9,407.4 C610.7,407.3 613.0,406.6 614.7,406.9 C616.4,407.2 618.5,407.9 620.1,409 C621.7,410.1 623.6,411.8 624.5,413.3 C625.4,414.8 625.3,417.4 625.5,418.2" stroke-width="1.6"/>
<path d="M625.5,418.2 C625.8,419.0 627.1,421.2 627.2,423.1 C627.3,425.0 626.7,427.7 626.1,429.5 C625.5,431.3 624.6,432.8 623.4,433.8 C622.2,434.8 619.8,435.2 619.1,435.5" stroke-width="1.6"/>
<path d="M619.1,435.5 C619.3,436.3 620.3,438.4 620.1,440.3 C619.9,442.2 618.9,444.8 618,446.8 C617.1,448.8 616.0,450.8 614.7,452.2 C613.4,453.6 612.2,454.6 610.4,455.4 C608.6,456.2 605.1,456.7 604,457" stroke-width="1.6"/>
<path d="M604,457 C602.9,457.2 599.3,458.3 597.5,458.1 C595.7,457.9 594.3,455.9 593.2,456 C592.1,456.1 592.3,458.4 591,458.7 C589.7,459.0 587.4,458.2 585.6,457.6 C583.8,457.1 581.8,456.5 580.2,455.4 C578.6,454.3 576.6,451.8 575.9,451.1" stroke-width="1.6"/>
<path d="M575.9,451.1 C575.2,450.4 573.2,447.9 571.6,446.8 C570.0,445.7 568.0,445.7 566.2,444.6 C564.4,443.5 562.1,442.1 560.8,440.3 C559.5,438.5 558.8,436.0 558.6,433.8 C558.4,431.6 559.5,428.5 559.7,427.4" stroke-width="1.6"/>
<path d="M559.7,427.4 C560.1,426.5 561.2,423.4 561.9,422 C562.6,420.6 563.1,419.9 564,419.3 C564.9,418.7 566.8,418.4 567.3,418.2" stroke-width="1.6"/>
<path d="M558.1,434.4 C558.3,435.4 558.0,438.5 559.2,440.5 C560.4,442.5 563.2,445.0 565.1,446.4 C567.0,447.8 568.8,447.8 570.5,449 C572.2,450.2 573.8,452.3 575.4,453.7 C577.0,455.1 578.3,456.4 580.2,457.4 C582.1,458.3 584.5,459.2 586.7,459.4 C588.9,459.6 591.4,458.4 593.2,458.5 C595.0,458.6 595.7,459.6 597.5,459.7 C599.3,459.8 601.7,459.3 604,458.9 C606.3,458.5 609.5,458.3 611.5,457.4 C613.5,456.5 614.5,455.2 615.8,453.6 C617.1,452.0 618.2,449.9 619.1,447.7 C620.0,445.5 620.3,442.6 621.2,440.5 C622.1,438.4 623.5,436.6 624.5,434.9 C625.5,433.2 626.8,430.9 627.3,430.1" stroke-width="2"/>
<path d="M574.8,415.5 C575.7,413.7 579.7,412.3 581.3,411.2 C582.9,410.1 583.2,409.2 584.5,409 C585.8,408.8 587.7,409.4 588.8,410.1 C589.9,410.8 589.9,412.7 591,413.3 C592.1,413.9 593.5,413.9 595.3,413.9 C597.1,413.9 600.2,412.9 601.8,413.3 C603.4,413.8 603.9,415.8 605,416.6 C606.1,417.4 606.7,417.6 608.3,418.2 C609.9,418.8 613.3,419.4 614.7,420.4 C616.1,421.4 616.9,422.6 616.9,424.1 C616.9,425.6 615.5,427.7 614.7,429.5 C613.9,431.3 612.7,433.1 612,434.9 C611.3,436.7 610.9,438.7 610.4,440.3 C609.9,441.9 609.9,443.5 608.8,444.6 C607.7,445.7 605.9,446.6 604,446.8 C602.1,447.0 599.3,446.2 597.5,445.7 C595.7,445.2 594.7,443.7 593.2,443.6 C591.8,443.5 590.1,445.4 588.8,445.2 C587.5,445.0 586.7,443.5 585.6,442.5 C584.5,441.5 583.8,440.1 582.4,439.2 C581.0,438.3 578.5,438.2 577,437.1 C575.5,436.0 573.8,434.4 573.2,432.8 C572.6,431.2 572.8,429.2 573.2,427.4 C573.7,425.6 575.6,424.0 575.9,422 C576.2,420.0 573.9,417.3 574.8,415.5Z"/>
<path d="M582.4,420.4 C583.6,419.3 580.6,418.6 585.6,419.6 C590.6,420.6 609.4,422.5 612.6,426.3 C615.8,430.1 610.2,441.0 605,442.5 C599.8,444.0 585.8,437.3 581.3,435.5 C576.8,433.7 578.6,433.2 578.1,431.7 C577.6,430.2 577.6,428.2 578.3,426.3 C579.0,424.4 581.2,421.5 582.4,420.4Z" stroke-width="1.5"/>
<polyline points="584,422 610.4,427.9 604,440.9"/>
<polyline points="567.3,418.2 574.6,422"/>
<polyline points="564,419.6 573.2,426.3"/>
<polyline points="583.5,405.8 582.4,411.2"/>
<polyline points="587.2,404.7 587.8,409.9"/>
<polyline points="609.9,407.4 605.6,416.6"/>
<polyline points="613.1,407.1 608.8,418.2"/>
<polyline points="625.5,418.2 616.4,422"/>
<polyline points="619.1,435.5 613.7,432.2"/>
<polyline points="604,457 602.3,446.8"/>
<polyline points="593.2,456 592.6,443.8"/>
<polyline points="575.9,451.1 582.4,439.5"/>
<polyline points="559.7,427.4 573.2,429.3"/>
<polyline points="585.6,457 585.9,459.7"/>
<polyline points="587.2,457 587.6,459.7"/>
<polyline points="588.8,457 589.2,459.7"/>
<polyline points="610.4,455.4 611,458.1"/>
<polyline points="612,455.4 612.6,458.1"/>
<polyline points="613.7,455.4 614.2,458.1"/>
<polyline points="565.7,394.3 570,400.7"/>
<polygon points="570,400.7 567.1,398.6 569.7,397.1" stroke-width="0.8" fill="#1a1a1a"/>
<polyline points="211,203.1 361.1,174.7"/>
<polyline points="204,221 299.3,204.3"/>
<ellipse cx="308.1" cy="198.9" rx="8.9" ry="8.9"/>
<polyline points="317.1,200.7 361.1,193.6"/>
<polyline points="198,234.4 361.1,202.9"/>
<polyline points="277.1,247.9 288.3,229.3 321.4,238.1"/>
<polyline points="337.1,255 361.1,250"/>
<polyline points="160,440 160,459.4"/>
<polyline points="160,440 331.4,490"/>
<polyline points="160,459.4 334.3,514.3"/>
<ellipse cx="251.4" cy="411.4" rx="8.6" ry="8.6"/>
<polyline points="479.6,532.7 626.8,579.5 625.4,602.8"/>
<polyline points="486.6,560.7 625.4,602.8"/>
<polyline points="626.8,579.5 639.4,551.5"/>
<polyline points="625.4,602.8 647.8,557"/>
<polyline points="612.9,313.9 736.1,346.7 736.1,371.8"/>
<polyline points="736.1,346.7 718.9,382.5"/>
<polyline points="736.1,371.8 728.6,384.6"/>
<polyline points="684.3,455 672.5,480.7"/>
<polyline points="696.7,455 683.2,480.7"/>
<polyline points="660,396.4 647.1,404"/>
<polygon points="647.1,404 652.5,397.5 655.5,403" stroke-width="0.8" fill="#1a1a1a"/>
<polyline points="642.6,82.1 642.6,67.1"/>
<polyline points="651.4,67.1 651.4,82.1"/>
<path d="M642.6,67.1 C643.4,66.8 645.6,65.3 647.1,65.3 C648.6,65.3 650.7,66.8 651.4,67.1"/>
<polyline points="642.6,69.4 651.4,68.6" stroke-width="1.5"/>
<polyline points="642.6,71.4 651.4,70.6" stroke-width="1.5"/>
<polyline points="642.6,73.4 651.4,72.6" stroke-width="1.5"/>
<polyline points="642.6,75.4 651.4,74.6" stroke-width="1.5"/>
<polyline points="642.6,77.4 651.4,76.6" stroke-width="1.5"/>
<polyline points="642.6,79.4 651.4,78.6" stroke-width="1.5"/>
<polyline points="642.6,81.4 651.4,80.6" stroke-width="1.5"/>
<path d="M638.6,85.7 C637.2,85.1 632.5,83.6 630,82.1 C627.5,80.5 625.3,78.1 623.6,76.4 C621.9,74.7 619.3,73.8 620,72.1 C620.7,70.4 625.8,66.4 627.9,66.4 C630.0,66.4 631.4,70.1 632.9,72.1 C634.4,74.1 635.6,76.9 637.1,78.6 C638.6,80.3 641.3,81.5 642.1,82.1"/>
<path d="M655.7,85.7 C657.1,85.2 661.9,84.1 664.3,82.9 C666.7,81.7 668.5,80.0 670,78.6 C671.5,77.2 674.3,76.1 673.6,74.3 C672.9,72.5 667.7,68.0 665.7,67.9 C663.7,67.8 663.0,71.7 661.4,73.6 C659.8,75.5 657.9,77.9 656.4,79.3 C654.9,80.7 652.8,81.6 652.1,82.1"/>
<polyline points="635.7,96.4 637.9,92.9 640,83.6 653.6,83.6 656.4,92.9 657.9,96.4"/>
<polyline points="637.9,92.9 656.4,92.9"/>
<polyline points="642.9,85 642.9,90.7" stroke-width="1.8"/>
<polyline points="651.1,85 651.1,90.7" stroke-width="1.8"/>
<polygon points="631.4,97.9 661.4,97.9 661.4,100.7 631.4,100.7"/>
<polyline points="635.7,96.4 657.9,96.4"/>
<polygon points="627.9,100.7 665,100.7 665,121.4 627.9,121.4"/>
<polyline points="627.9,104.3 665,104.3"/>
<polyline points="627.9,117.9 665,117.9"/>
<polyline points="651.1,100.7 651.1,121.4"/>
<polyline points="642.6,97.9 642.6,220" stroke-width="1.5" stroke-dasharray="5 2"/>
<polyline points="651.1,121.4 651.1,220" stroke-width="1.5" stroke-dasharray="5 2"/>
<polyline points="625.7,160 625.7,121.9 717.9,121.9"/>
<polyline points="628.6,121.6 665,121.6" stroke-width="2"/>
<polyline points="594.3,140.7 630.7,123.6"/>
<polygon points="630.7,123.6 626.9,123.3 628.3,126.1" stroke-width="0.8" fill="#1a1a1a"/>
<polyline points="594.3,140.4 631.4,122.9"/>
<polyline points="594.3,140.4 630,157.1"/>
<polyline points="594.3,140.4 630.7,194.3"/>
<polygon points="630,157.1 626,157.1 627.4,153.9" stroke-width="0.8" fill="#1a1a1a"/>
<polygon points="630.7,194.3 627.1,191.4 630.3,190" stroke-width="0.8" fill="#1a1a1a"/>
<polyline points="627.1,159.6 664.3,159.6" stroke-width="2"/>
<polyline points="626.1,159.3 706.4,159.3"/>
<polyline points="610.7,161 664.3,161"/>
<polyline points="610.7,161 614.3,170.7 611.4,173.6 615.7,182.1 611.4,186.4 615,193.6 625.7,194.3 664.3,194.3"/>
<polyline points="664.3,161 664.3,197.9"/>
<polyline points="610,240 610,197.9 682.9,197.9 682.9,240"/>
<polyline points="719.3,122.6 715,122.9 707.9,137.9 710.7,142.1 706.4,150 707.9,154.3 706.4,158.9"/>
<polyline points="609.3,242.1 641.4,242.1 641.4,227.9 651.4,227.9 651.4,242.1 681.4,242.1"/>
<polygon points="606.4,216.4 609.3,216.4 609.3,247.9 606.4,247.9"/>
<polygon points="575.4,212.9 605.7,212.9 605.7,252.6 575.4,252.6"/>
<polyline points="575.4,217.9 551.4,217.9 560,230 557.9,232.9 567.1,244.3 564.3,246.4 570,252.6 760,252.6"/>
<ellipse cx="591.4" cy="243.6" rx="8.3" ry="8.3"/>
<ellipse cx="591.4" cy="243.6" rx="6.4" ry="6.4"/>
<polyline points="590,238.6 589.3,248.6"/>
<polyline points="592.9,238.6 592.1,248.6"/>
<polyline points="584.3,228.6 681.4,228.6" stroke-width="1.5" stroke-dasharray="4 2"/>
<polyline points="584.3,234.6 681.4,234.6" stroke-width="1.5" stroke-dasharray="4 2"/>
<polyline points="635.7,227.4 635.7,220 642.1,220" stroke-width="1.6"/>
<polyline points="650.7,220 657.1,220 657.1,227.4" stroke-width="1.6"/>
<polyline points="576.4,221.7 580.7,221.7"/>
<polyline points="582.9,222.9 582.9,225.7"/>
<polyline points="576.4,238.6 583.6,238.6"/>
<polyline points="657.1,255.7 657.1,242.9"/>
<polygon points="657.1,242.6 655.4,246.4 658.9,246.4" stroke-width="0.8" fill="#1a1a1a"/>
<polygon points="681.7,216.4 684.6,216.4 684.6,252.9 681.7,252.9"/>
<polygon points="684.6,214.6 711.1,214.6 711.1,253.6 684.6,253.6"/>
<polyline points="711.1,219.7 770,219.7 758.6,235.7 762.1,239.3 751.4,253.6"/>
<polyline points="711.1,225 716.9,225 716.9,240 711.1,240"/>
<ellipse cx="697.9" cy="244" rx="7.9" ry="7.9"/>
<ellipse cx="697.9" cy="244" rx="6.0" ry="6.0"/>
<polyline points="695.7,239.3 698.6,248.6"/>
<polyline points="697.4,238.9 700.3,247.9"/>
<polyline points="674.3,229.3 707.1,229.3 707.1,235 674.3,235"/>
<polyline points="675.7,229.7 677.1,234.6" stroke-width="1"/>
<polyline points="678.9,229.7 680.3,234.6" stroke-width="1"/>
<polyline points="682,229.7 683.4,234.6" stroke-width="1"/>
<polyline points="685.1,229.7 686.6,234.6" stroke-width="1"/>
<polyline points="688.3,229.7 689.7,234.6" stroke-width="1"/>
<polyline points="691.4,229.7 692.9,234.6" stroke-width="1"/>
<polyline points="694.6,229.7 696,234.6" stroke-width="1"/>
<polyline points="697.7,229.7 699.1,234.6" stroke-width="1"/>
<polyline points="700.9,229.7 702.3,234.6" stroke-width="1"/>
<polyline points="704,229.7 705.4,234.6" stroke-width="1"/>
<polyline points="707.1,225 709.3,225" stroke-width="1.5"/>
<polyline points="707.1,239.3 709.3,239.3" stroke-width="1.5"/>
<polyline points="460.6,174.8 514,216.8"/>
<polyline points="532,231.5 571.2,262.9 592.6,279.5"/>
<polyline points="285.7,288.1 366.9,272"/>
</g>
<g id="lbl" fill="#1a1a1a" font-family="'Liberation Sans',sans-serif">
<text x="394.6" y="244.7" font-size="14" textLength="128" lengthAdjust="spacingAndGlyphs" transform="rotate(-90 394.6 244.7)">DREMEL MOTO-TOOL</text>
<text x="308.1" y="203.5" font-size="13" text-anchor="middle" textLength="10.2" lengthAdjust="spacingAndGlyphs">A</text>
<text x="322.9" y="261.7" font-size="13" text-anchor="middle" textLength="10.2" lengthAdjust="spacingAndGlyphs">B</text>
<text x="356" y="331.5" font-size="13" text-anchor="middle" textLength="11.1" lengthAdjust="spacingAndGlyphs">C</text>
<text x="225.8" y="296.3" font-size="13" text-anchor="middle" textLength="11.1" lengthAdjust="spacingAndGlyphs">D</text>
<text x="541.9" y="281" font-size="13" text-anchor="middle" textLength="10.2" lengthAdjust="spacingAndGlyphs">E</text>
<text x="211.5" y="329" font-size="13" text-anchor="middle" textLength="9.4" lengthAdjust="spacingAndGlyphs">F</text>
<text x="174.4" y="362.6" font-size="13" text-anchor="middle" textLength="11.9" lengthAdjust="spacingAndGlyphs">G</text>
<text x="251.4" y="416" font-size="13" text-anchor="middle" textLength="11.1" lengthAdjust="spacingAndGlyphs">H</text>
<text x="490" y="190.5" font-size="9.5" textLength="72.6" lengthAdjust="spacingAndGlyphs" font-style="italic">COUNTERSUNK</text>
<text x="409" y="359.8" font-size="11.5" textLength="73.5" lengthAdjust="spacing" font-style="italic">CUTS HERE</text>
<text x="409" y="372.3" font-size="11.5" textLength="47" lengthAdjust="spacing" font-style="italic">1/4 SIZE</text>
<text x="525" y="388" font-size="11.5" textLength="51.4" lengthAdjust="spacing" font-style="italic">TRACES</text>
<text x="523.6" y="401.4" font-size="11.5" textLength="35" lengthAdjust="spacing" font-style="italic">HERE</text>
<text x="104.3" y="380" font-size="11" textLength="45.7" lengthAdjust="spacing" font-style="italic">TILT-UP</text>
<text x="103.6" y="391.7" font-size="11" textLength="36.4" lengthAdjust="spacing" font-style="italic">PIVOT</text>
<text x="102.9" y="403.6" font-size="11" textLength="32.8" lengthAdjust="spacing" font-style="italic">BOLT</text>
<text x="72.1" y="418.6" font-size="11.5" textLength="79.3" lengthAdjust="spacing" font-style="italic">(See dwg #2)</text>
<text x="549.3" y="141.9" font-size="9.5" textLength="38.6" lengthAdjust="spacing" font-style="italic">Washers</text>
<text x="693.6" y="182.6" font-size="13.5" textLength="45.7" lengthAdjust="spacing" font-style="italic">PIVOT</text>
<text x="634" y="267.1" font-size="10" textLength="54" lengthAdjust="spacing" font-style="italic">ROUNDED</text>
<text x="707" y="278.6" font-size="15" textLength="53" lengthAdjust="spacingAndGlyphs" font-style="italic">Dwg. #2</text>
<text x="658.6" y="114.5" font-size="10.5" text-anchor="middle">A</text>
<text x="675.4" y="144" font-size="13" text-anchor="middle">D</text>
<text x="628.6" y="182" font-size="14" text-anchor="middle">B</text>
<text x="665" y="215.8" font-size="12" text-anchor="middle">F</text>
<text x="592.9" y="223.5" font-size="11" text-anchor="middle">G</text>
<text x="697.4" y="224.5" font-size="11" text-anchor="middle">G</text>
<text x="739.3" y="240" font-size="11" text-anchor="middle">H</text>
<text x="351" y="430.4" font-size="12" textLength="86.4" lengthAdjust="spacing" stroke="#1a1a1a" stroke-width="0.35">DIMENSIONS</text>
<text x="340.4" y="447.5" font-size="12" textLength="134" lengthAdjust="spacing">A – 6<tspan font-size="16">⅝</tspan>" X <tspan font-size="16">¾</tspan>" X <tspan font-size="16">¼</tspan>"</text>
<text x="340.4" y="464.6" font-size="12" textLength="138" lengthAdjust="spacing">B – 6<tspan font-size="16">⅝</tspan>" X <tspan font-size="16">¾</tspan>  X 1/16"</text>
<text x="340.4" y="481.8" font-size="12" textLength="134" lengthAdjust="spacing">C – 8<tspan font-size="16">¼</tspan>" X 1<tspan font-size="16">⅛</tspan>" X <tspan font-size="16">½</tspan>"</text>
<text x="340.4" y="498.3" font-size="12" textLength="135" lengthAdjust="spacing">D – 3<tspan font-size="16">¾</tspan>" X <tspan font-size="16">¾</tspan>" X <tspan font-size="16">¾</tspan>"</text>
<text x="340.4" y="514.6" font-size="12" textLength="132" lengthAdjust="spacing">E – 6<tspan font-size="16">¾</tspan>" X <tspan font-size="16">¾</tspan>" X <tspan font-size="16">¾</tspan>"</text>
<text x="340.4" y="530.5" font-size="12" textLength="134" lengthAdjust="spacing">F – 1<tspan font-size="16">½</tspan>" X <tspan font-size="16">¾</tspan>" X 1<tspan font-size="16">⅜</tspan>"</text>
<text x="340.4" y="547.3" font-size="12" textLength="110.4" lengthAdjust="spacing">G – <tspan font-size="16">¾</tspan>" X <tspan font-size="16">¾</tspan> X 1"</text>
<text x="340.4" y="564.2" font-size="12" textLength="140.9" lengthAdjust="spacing">H – 12" X 8" X <tspan font-size="16">¾</tspan>" ply</text>
<text x="322.1" y="584.1" font-size="12.5" textLength="165" lengthAdjust="spacing" font-style="italic">(For further dimensions see</text>
<text x="334.7" y="596.7" font-size="12.5" textLength="139.8" lengthAdjust="spacing" font-style="italic">Paul Greenlee, SMA.)</text>
<text x="92.6" y="514.1" font-size="18.2" textLength="132.5" lengthAdjust="spacing" font-family="'DejaVu Sans Light','DejaVu Sans','Liberation Sans',sans-serif" font-weight="200" stroke="#1a1a1a" stroke-width="0.4">PANOGRAPHIC</text>
<text x="92.6" y="534.2" font-size="18.2" textLength="138.8" lengthAdjust="spacing" font-family="'DejaVu Sans Light','DejaVu Sans','Liberation Sans',sans-serif" font-weight="200" stroke="#1a1a1a" stroke-width="0.4">DRILL CUTTER</text>
<text x="103.1" y="551.5" font-size="14" textLength="116.7" lengthAdjust="spacing">with a choice of</text>
<text x="97.9" y="566.2" font-size="14" textLength="119.8" lengthAdjust="spacing">scales of 1:1 to 1:4</text>
<text x="665" y="399.7" font-size="13.5" textLength="90" lengthAdjust="spacingAndGlyphs" font-family="'DejaVu Sans Light','DejaVu Sans','Liberation Sans',sans-serif" font-weight="200" stroke="#1a1a1a" stroke-width="0.45">Example shown</text>
<text x="669.3" y="413.9" font-size="12" textLength="105" lengthAdjust="spacing">is a 1:4 reduction</text>
<text x="665.6" y="424.6" font-size="10.5" textLength="108.7" lengthAdjust="spacing">of a transom window</text>
<text x="670.4" y="436.1" font-size="10.5" textLength="79.2" lengthAdjust="spacing">( Built from 9</text>
<text x="681" y="448.1" font-size="10.5" textLength="84.7" lengthAdjust="spacing">pieces of wood)</text>
<text x="619.5" y="494.2" font-size="17" textLength="148.2" lengthAdjust="spacingAndGlyphs" font-family="'DejaVu Sans Light','DejaVu Sans','Liberation Sans',sans-serif" font-weight="200" stroke="#1a1a1a" stroke-width="0.45">Drawing is taken from</text>
<text x="625.8" y="508.9" font-size="16.5" textLength="124" lengthAdjust="spacingAndGlyphs" font-family="'DejaVu Sans Light','DejaVu Sans','Liberation Sans',sans-serif" font-weight="200" stroke="#1a1a1a" stroke-width="0.45">panograph built by</text>
<text x="634.2" y="529.3" font-size="15.5" textLength="128.2" lengthAdjust="spacingAndGlyphs" font-family="'DejaVu Sans Light','DejaVu Sans','Liberation Sans',sans-serif" font-weight="200" stroke="#1a1a1a" stroke-width="0.45">PAUL GREENLEE,</text>
<text x="641.5" y="549.5" font-size="14" textLength="90.5" lengthAdjust="spacingAndGlyphs" font-family="'DejaVu Sans Light','DejaVu Sans','Liberation Sans',sans-serif" font-weight="200" stroke="#1a1a1a" stroke-width="0.45">SMA Member</text>
<text x="655.2" y="568.8" font-size="11" textLength="75.7" lengthAdjust="spacing">JHM – 1992</text>
</g>
<g fill="#222" font-family="'Liberation Serif',serif" font-weight="bold" font-size="22.4" style="white-space:pre">
<text x="20.6" y="46.6">Ship Modelers’ Association</text>
<text x="20.6" y="72.4">P.O. Box 5173</text>
<text x="20.6" y="98.8">Torrance, CA&#160; 90510</text>
</g>
<defs><clipPath id="ct"><rect x="0" y="500" width="856" height="66.5"/></clipPath><clipPath id="cb"><rect x="0" y="566.5" width="856" height="64"/></clipPath><filter id="fb" filterUnits="userSpaceOnUse" x="100" y="500" width="756" height="130"><feMorphology operator="dilate" radius="4.8 1.3"/></filter><filter id="ft" filterUnits="userSpaceOnUse" x="100" y="500" width="756" height="130"><feMorphology in="SourceGraphic" operator="dilate" radius="4.8 1.3" result="o"/><feMorphology in="SourceGraphic" operator="dilate" radius="3.3 0.01" result="i"/><feComposite in="o" in2="i" operator="out"/></filter></defs>
<g style="mix-blend-mode:multiply" font-family="'Liberation Serif',serif" font-weight="bold" font-size="97.5">
<path d="M124.2,566.5 L96.8,561.0 L121.2,547.3 L93.4,550.6 L112.4,530.1 L86.9,541.8 L98.6,516.3 L78.1,535.3 L81.4,507.5 L67.7,531.9 L62.2,504.5 L56.7,531.9 L43.0,507.5 L46.3,535.3 L25.8,516.3 L37.5,541.8 L12.0,530.1 L31.0,550.6 L3.2,547.3 L27.6,561.0 L0.2,566.5 L27.6,572.0 L3.2,585.7 L31.0,582.4 L12.0,602.9 L37.5,591.2 L25.8,616.7 L46.3,597.7 L43.0,625.5 L56.7,601.1 L62.2,628.5 L67.7,601.1 L81.4,625.5 L78.1,597.7 L98.6,616.7 L86.9,591.2 L112.4,602.9 L93.4,582.4 L121.2,585.7 L96.8,572.0Z M29.0,566.5 A33.2,33.2 0 0 1 95.4,566.5 Z" fill="#66a8cc" fill-rule="evenodd"/>
<g clip-path="url(#cb)"><g filter="url(#fb)"><text y="598.8" fill="#66a8cc"><tspan x="137.1" textLength="41.1" lengthAdjust="spacingAndGlyphs">S</tspan><tspan x="185.4" textLength="51.7" lengthAdjust="spacingAndGlyphs">E</tspan><tspan x="243.4" textLength="51.9" lengthAdjust="spacingAndGlyphs">A</tspan><tspan x="294.7" textLength="53.2" lengthAdjust="spacingAndGlyphs">T</tspan><tspan x="357.2" textLength="53.3" lengthAdjust="spacingAndGlyphs">R</tspan><tspan x="415.5" textLength="54.0" lengthAdjust="spacingAndGlyphs">A</tspan><tspan x="475.1" textLength="50.8" lengthAdjust="spacingAndGlyphs">C</tspan><tspan x="531.8" textLength="59.0" lengthAdjust="spacingAndGlyphs">K</tspan><tspan x="598.0" textLength="50.3" lengthAdjust="spacingAndGlyphs">E</tspan><tspan x="654.5" textLength="55.4" lengthAdjust="spacingAndGlyphs">R</tspan><tspan x="717.1" textLength="17.6" lengthAdjust="spacingAndGlyphs">.</tspan><tspan x="741.5" textLength="55.5" lengthAdjust="spacingAndGlyphs">R</tspan><tspan x="802.9" textLength="35.4" lengthAdjust="spacingAndGlyphs">U</tspan></text></g></g>
<g clip-path="url(#ct)"><g filter="url(#ft)"><text y="598.8" fill="#66a8cc"><tspan x="137.1" textLength="41.1" lengthAdjust="spacingAndGlyphs">S</tspan><tspan x="185.4" textLength="51.7" lengthAdjust="spacingAndGlyphs">E</tspan><tspan x="243.4" textLength="51.9" lengthAdjust="spacingAndGlyphs">A</tspan><tspan x="294.7" textLength="53.2" lengthAdjust="spacingAndGlyphs">T</tspan><tspan x="357.2" textLength="53.3" lengthAdjust="spacingAndGlyphs">R</tspan><tspan x="415.5" textLength="54.0" lengthAdjust="spacingAndGlyphs">A</tspan><tspan x="475.1" textLength="50.8" lengthAdjust="spacingAndGlyphs">C</tspan><tspan x="531.8" textLength="59.0" lengthAdjust="spacingAndGlyphs">K</tspan><tspan x="598.0" textLength="50.3" lengthAdjust="spacingAndGlyphs">E</tspan><tspan x="654.5" textLength="55.4" lengthAdjust="spacingAndGlyphs">R</tspan><tspan x="717.1" textLength="17.6" lengthAdjust="spacingAndGlyphs">.</tspan><tspan x="741.5" textLength="55.5" lengthAdjust="spacingAndGlyphs">R</tspan><tspan x="802.9" textLength="35.4" lengthAdjust="spacingAndGlyphs">U</tspan></text></g></g>
</g>
</svg>
</body></html>
